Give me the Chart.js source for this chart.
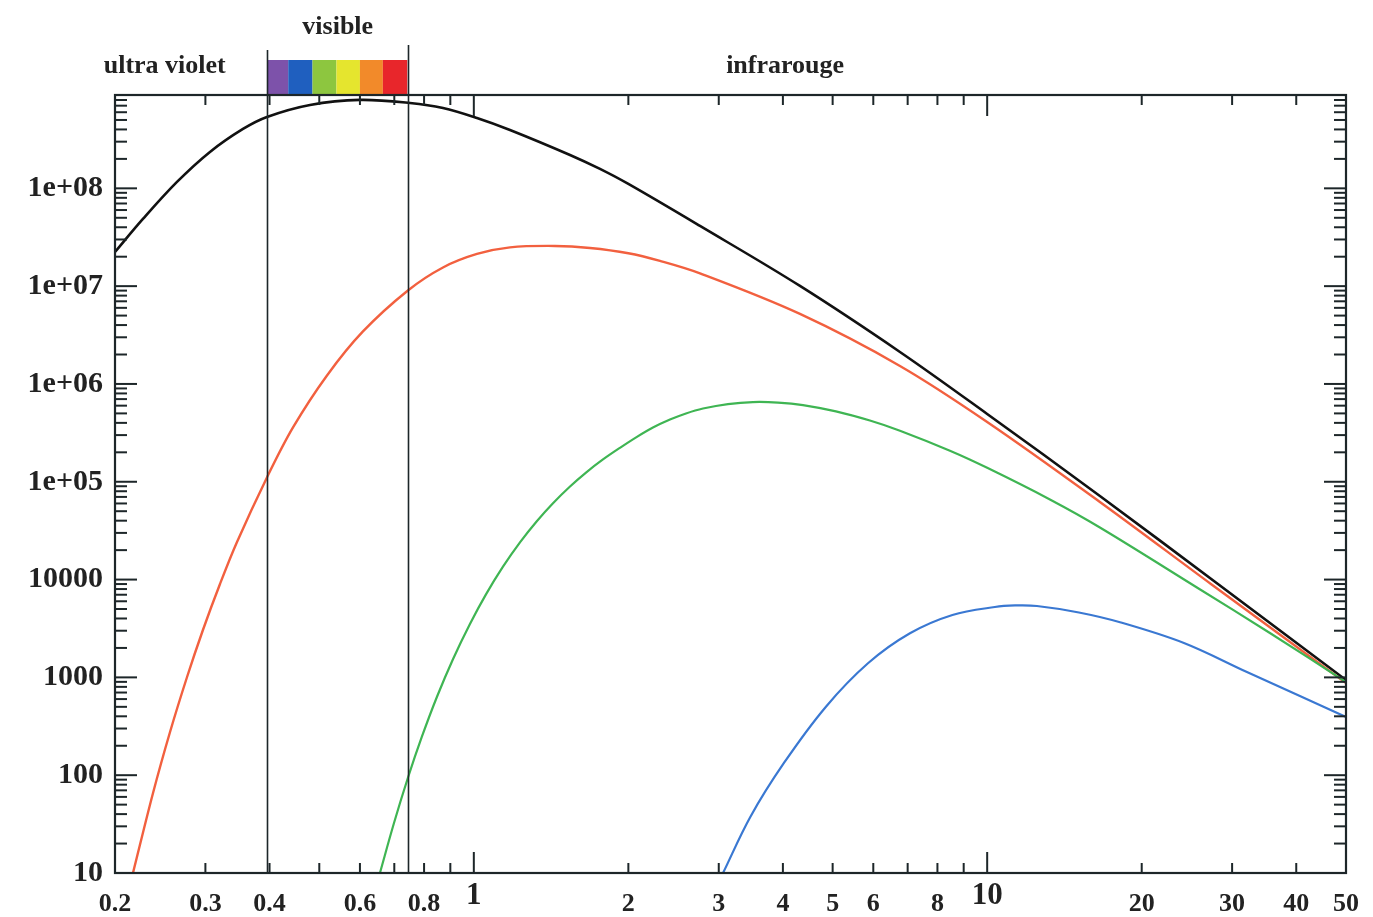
<!DOCTYPE html>
<html>
<head>
<meta charset="utf-8">
<script src="https://cdn.jsdelivr.net/npm/chart.js@4.4.1/dist/chart.umd.min.js"></script>
<style>
  html, body { margin: 0; padding: 0; background: #fff; }
  canvas { display: block; }
</style>
</head>
<body>
<canvas id="spectre" width="1373" height="917"></canvas>
<script>
// longueurs d'onde (micron) et valeurs
const noirX = [0.2, 0.2267, 0.2641, 0.3062, 0.3551, 0.3954, 0.4796, 0.6001, 0.751, 0.8708, 1.0142, 1.1761, 1.5395, 1.7611, 2.0, 2.7578, 4.3184, 6.7624, 10, 16.58, 28.15, 50];
const noirY = [2.237e7, 4.866e7, 1.163e8, 2.357e8, 4.05e8, 5.372e8, 7.125e8, 8.015e8, 7.468e8, 6.637e8, 5.246e8, 3.955e8, 2.195e8, 1.579e8, 1.109e8, 4.127e7, 1.005e7, 2.124e6, 4.935e5, 7.157e4, 9016, 940];

const rougeX = [0.2168, 0.2372, 0.256, 0.2763, 0.2967, 0.3203, 0.3457, 0.3954, 0.4444, 0.5176, 0.6082, 0.7441, 0.8708, 1.0142, 1.1761, 1.4392, 1.6839, 2.0, 2.305, 2.7578, 4.3184, 6.7624, 10, 16.58, 27.28, 50];
const rougeY = [10, 65.8, 276.6, 1009, 3052, 9016, 24240, 1.107e5, 3.592e5, 1.222e6, 3.443e6, 9.036e6, 1.553e7, 2.134e7, 2.493e7, 2.576e7, 2.458e7, 2.17e7, 1.81e7, 1.35e7, 5.195e6, 1.528e6, 4.088e5, 6.217e4, 9016, 876];

const vertX = [0.6563, 0.6988, 0.7441, 0.7925, 0.8477, 0.9107, 0.9828, 1.056, 1.1397, 1.23, 1.3276, 1.4263, 1.5395, 1.654, 1.7849, 1.926, 2.0786, 2.2332, 2.4104, 2.5896, 2.7952, 3.1262, 3.497, 3.9124, 4.3768, 5.0742, 5.9094, 6.7624, 8.4616, 10, 13.25, 16.58, 25.62, 35.54, 50];
const vertY = [10, 32.23, 94.1, 248.7, 634.2, 1535, 3516, 7059, 13550, 24020, 39730, 60420, 89540, 1.242e5, 1.69e5, 2.222e5, 2.878e5, 3.584e5, 4.325e5, 4.993e5, 5.605e5, 6.231e5, 6.53e5, 6.453e5, 6.085e5, 5.245e5, 4.225e5, 3.323e5, 2.075e5, 1.388e5, 65920, 34100, 8304, 2844, 897];

const bleuX = [3.058, 3.458, 4.019, 4.852, 5.859, 7.073, 8.557, 10.35, 11.33, 12.5, 15.09, 18.22, 24.17, 32.06, 40.66, 50];
const bleuY = [10, 37.64, 133.3, 501.8, 1394, 2825, 4345, 5246, 5435, 5370, 4609, 3641, 2247, 1136, 645, 393.6];

// axes
const xTicks = [0.2, 0.3, 0.4, 0.6, 0.8, 1, 2, 3, 4, 5, 6, 8, 10, 20, 30, 40, 50];
const xMineurs = [0.3, 0.4, 0.5, 0.6, 0.7, 0.8, 0.9, 2, 3, 4, 5, 6, 7, 8, 9, 20, 30, 40];
const xMajeurs = [1, 10];
const yTicks = [10, 100, 1000, 10000, 1e5, 1e6, 1e7, 1e8];
const yTickLabels = ["10", "100", "1000", "10000", "1e+05", "1e+06", "1e+07", "1e+08"];

// domaine visible et bandes de couleur
const bornesVisible = [0.396, 0.745];
const bandes = [0.396, 0.435, 0.485, 0.54, 0.6, 0.665, 0.742];
const couleursBandes = ["#7d52aa", "#1f5fbf", "#8dc63f", "#e5e52e", "#f28a2a", "#e8262b"];
const regions = ["ultra violet", "visible", "infrarouge"];
const regionsX = [0.25, null, 4.04];

const serif = '"Liberation Serif", "Times New Roman", serif';
const encre = "#1d2629";

function serie(xs, ys) {
  return xs.map((v, i) => ({ x: v, y: ys[i] }));
}

const decor = {
  id: "decor",
  afterDatasetsDraw(chart) {
    const { ctx, chartArea: a, scales: { x, y } } = chart;
    ctx.save();

    // bandes du spectre au dessus du cadre
    for (let i = 0; i < couleursBandes.length; i++) {
      const x0 = x.getPixelForValue(bandes[i]);
      const x1 = x.getPixelForValue(bandes[i + 1]);
      ctx.fillStyle = couleursBandes[i];
      ctx.fillRect(x0, 60, x1 - x0, a.top - 60);
    }

    // lignes verticales du visible
    ctx.strokeStyle = encre;
    ctx.lineWidth = 1.6;
    bornesVisible.forEach((b, i) => {
      const px = Math.round(x.getPixelForValue(b)) + 0.5;
      ctx.beginPath();
      ctx.moveTo(px, i === 0 ? 50 : 45);
      ctx.lineTo(px, a.bottom);
      ctx.stroke();
    });

    // graduations vers l'interieur
    ctx.lineWidth = 2;
    const tic = (x0, y0, x1, y1) => { ctx.beginPath(); ctx.moveTo(x0, y0); ctx.lineTo(x1, y1); ctx.stroke(); };
    xMineurs.forEach(v => {
      const px = x.getPixelForValue(v);
      tic(px, a.bottom, px, a.bottom - 10);
      tic(px, a.top, px, a.top + 10);
    });
    xMajeurs.forEach(v => {
      const px = x.getPixelForValue(v);
      tic(px, a.bottom, px, a.bottom - 21);
      tic(px, a.top, px, a.top + 21);
    });
    yTicks.forEach(d => {
      const py = y.getPixelForValue(d);
      tic(a.left, py, a.left + 22, py);
      tic(a.right, py, a.right - 22, py);
      for (let k = 2; k <= 9; k++) {
        const v = d * k;
        if (v > y.max) break;
        const q = y.getPixelForValue(v);
        tic(a.left, q, a.left + 12, q);
        tic(a.right, q, a.right - 12, q);
      }
    });

    // cadre
    ctx.lineWidth = 2.2;
    ctx.strokeRect(a.left, a.top, a.right - a.left, a.bottom - a.top);

    // etiquettes des domaines
    ctx.fillStyle = "#222";
    ctx.font = "bold 26px " + serif;
    ctx.textAlign = "center";
    ctx.textBaseline = "middle";
    const milieu = (x.getPixelForValue(bornesVisible[0]) + x.getPixelForValue(bornesVisible[1])) / 2;
    ctx.fillText(regions[0], x.getPixelForValue(regionsX[0]), 66);
    ctx.fillText(regions[1], milieu, 27);
    ctx.fillText(regions[2], x.getPixelForValue(regionsX[2]), 66);

    ctx.restore();
  }
};

const ligne = (data, color, w) => ({
  data, borderColor: color, borderWidth: w, pointRadius: 0,
  fill: false, tension: 0.35
});

new Chart(document.getElementById("spectre"), {
  type: "line",
  data: {
    datasets: [
      ligne(serie(bleuX, bleuY), "#3a78d2", 2.2),
      ligne(serie(vertX, vertY), "#3fb553", 2.2),
      ligne(serie(rougeX, rougeY), "#f2603f", 2.4),
      ligne(serie(noirX, noirY), "#111111", 2.6)
    ]
  },
  options: {
    responsive: false,
    animation: false,
    events: [],
    layout: { padding: { top: 95, right: 27, left: 0, bottom: 0 } },
    plugins: { legend: { display: false }, tooltip: { enabled: false } },
    scales: {
      x: {
        type: "logarithmic",
        min: 0.2, max: 50,
        grid: { display: false, drawTicks: false },
        border: { display: false },
        afterBuildTicks: s => { s.ticks = xTicks.map(v => ({ value: v })); },
        afterFit: s => { s.height = 44; s.paddingLeft = 0; s.paddingRight = 0; },
        ticks: {
          autoSkip: false, maxRotation: 0, padding: 16, color: "#222",
          callback: v => String(v),
          font: c => {
            const grand = c.tick && xMajeurs.includes(c.tick.value);
            return { family: serif, weight: "bold", size: grand ? 31 : 26, lineHeight: grand ? 0.42 : 1.2 };
          }
        }
      },
      y: {
        type: "logarithmic",
        min: 10, max: 9e8,
        grid: { display: false, drawTicks: false },
        border: { display: false },
        afterBuildTicks: s => { s.ticks = yTicks.map(v => ({ value: v })); },
        afterFit: s => { s.width = 115; s.paddingTop = 0; s.paddingBottom = 0; },
        ticks: {
          autoSkip: false, padding: 12, color: "#222",
          callback: (v, i) => yTickLabels[i],
          font: { family: serif, weight: "bold", size: 30 }
        }
      }
    }
  },
  plugins: [decor]
});
</script>
</body>
</html>
